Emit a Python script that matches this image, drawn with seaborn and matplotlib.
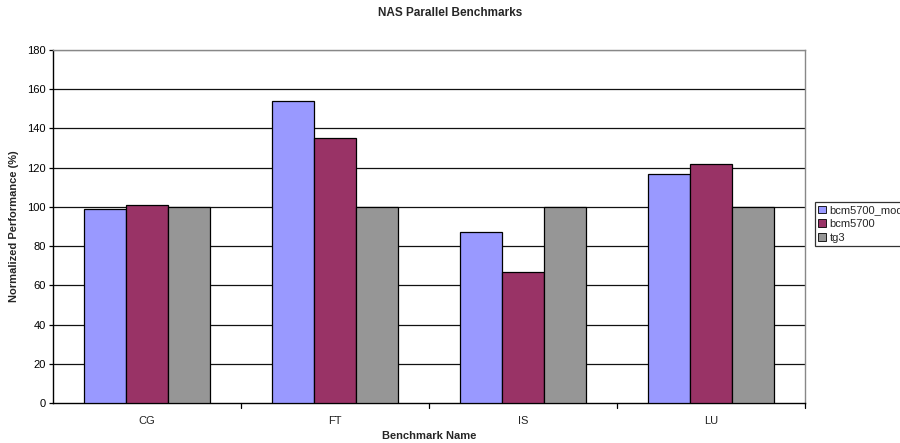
import matplotlib
matplotlib.use("Agg")
import matplotlib.pyplot as plt
import seaborn as sns
import pandas as pd

benchmarks = ["CG", "FT", "IS", "LU"]
drivers = ["bcm5700_mod", "bcm5700", "tg3"]
bcm5700_mod = [99, 154, 87, 117]
bcm5700 = [101, 135, 67, 122]
tg3 = [100, 100, 100, 100]

palette = ["#9999FF", "#993366", "#969696"]

rows = []
for name, vals in zip(drivers, [bcm5700_mod, bcm5700, tg3]):
    for b, v in zip(benchmarks, vals):
        rows.append({"Benchmark": b, "Driver": name, "Perf": v})
df = pd.DataFrame(rows)

sns.set_theme(style="white")
plt.rcParams["font.family"] = ["Liberation Sans", "DejaVu Sans"]

fig = plt.figure(figsize=(9, 4.43), dpi=100)
ax = fig.add_axes([53/900, 1 - 403/443, (805 - 53)/900, (403 - 50)/443])

sns.barplot(data=df, x="Benchmark", y="Perf", hue="Driver", order=benchmarks,
            hue_order=drivers, palette=palette, width=0.67, gap=0,
            edgecolor="black", linewidth=0.9, saturation=1, ax=ax, legend=True,
            zorder=3)

ax.set_ylim(0, 180)
ax.set_xlim(-0.5, 3.5)
ax.set_yticks(range(0, 181, 20))
for y in range(20, 181, 20):
    ax.axhline(y, color="#111111" if y < 180 else "#888888", lw=0.9, zorder=1)

# category-boundary ticks on the x axis
ax.set_xticks([0, 1, 2, 3])
ax.set_xticklabels(benchmarks)
ax.tick_params(axis="x", length=0, labelsize=8, pad=9, colors="#222222")
for xb in [0.5, 1.5, 2.5, 3.5]:
    ax.plot([xb, xb], [0, -2.5], color="black", lw=0.9, clip_on=False, zorder=4)
ax.tick_params(axis="y", direction="out", length=3, width=0.9, labelsize=8,
               colors="black", left=True, pad=2)

for side in ["left", "bottom"]:
    ax.spines[side].set_color("black")
    ax.spines[side].set_linewidth(1.0)
for side in ["top", "right"]:
    ax.spines[side].set_visible(True)
    ax.spines[side].set_color("#888888")
    ax.spines[side].set_linewidth(1.0)

ax.set_xlabel("Benchmark Name", fontsize=8, fontweight="bold", labelpad=4)
ax.set_ylabel("Normalized Performance (%)", fontsize=8, fontweight="bold", labelpad=6)

fig.text(0.5, 1 - 13/443, "NAS Parallel Benchmarks", ha="center", va="center",
         fontsize=8.5, fontweight="bold")

leg = ax.legend(loc="upper left", bbox_to_anchor=(815/900, 1 - 202/443),
                bbox_transform=fig.transFigure, frameon=True, fontsize=8,
                handlelength=0.7, handleheight=0.7, handletextpad=0.3,
                borderpad=0.3, labelspacing=0.35, borderaxespad=0,
                fancybox=False)
leg.get_frame().set_edgecolor("black")
leg.get_frame().set_linewidth(0.9)
for h in leg.legend_handles:
    h.set_edgecolor("black")
    h.set_linewidth(0.6)

fig.savefig("out.png", dpi=100)
